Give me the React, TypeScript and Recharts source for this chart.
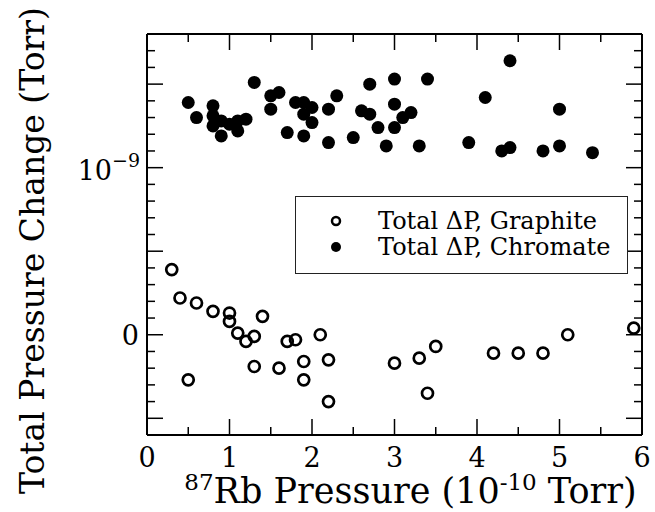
import React from 'react';
import { ScatterChart, Scatter, XAxis, YAxis, Legend } from 'recharts';

// values, y in units of 1e-9 Torr
const graphiteX = [0.3, 0.4, 0.6, 0.8, 1.0, 1.0, 1.1, 1.2, 1.3, 1.4, 1.3, 0.5, 1.6, 1.7, 1.8, 1.9, 1.9, 2.1, 2.2, 2.2, 3.0, 3.3, 3.4, 3.5, 4.2, 4.5, 4.8, 5.1, 5.9];
const graphiteY = [0.39, 0.22, 0.19, 0.14, 0.13, 0.08, 0.01, -0.04, -0.01, 0.11, -0.19, -0.27, -0.2, -0.04, -0.03, -0.16, -0.27, 0.0, -0.15, -0.4, -0.17, -0.14, -0.35, -0.07, -0.11, -0.11, -0.11, 0.0, 0.04];

const chromateX = [0.5, 0.6, 0.8, 0.8, 0.8, 0.9, 0.9, 1.0, 1.1, 1.1, 1.2, 1.3, 1.5, 1.5, 1.6, 1.7, 1.8, 1.9, 1.9, 2.0, 2.0, 1.9, 2.2, 2.2, 2.3, 2.5, 2.6, 2.7, 2.7, 2.8, 2.9, 3.0, 3.0, 3.0, 3.1, 3.2, 3.3, 3.4, 3.9, 4.1, 4.3, 4.4, 4.4, 4.8, 5.0, 5.0, 5.4];
const chromateY = [1.39, 1.3, 1.37, 1.31, 1.25, 1.28, 1.19, 1.26, 1.28, 1.22, 1.29, 1.51, 1.43, 1.35, 1.45, 1.21, 1.39, 1.39, 1.32, 1.36, 1.27, 1.19, 1.35, 1.15, 1.43, 1.18, 1.34, 1.5, 1.32, 1.24, 1.13, 1.53, 1.38, 1.24, 1.3, 1.33, 1.13, 1.53, 1.15, 1.42, 1.1, 1.12, 1.64, 1.1, 1.35, 1.13, 1.09];

const xTicks = [0, 0.5, 1, 1.5, 2, 2.5, 3, 3.5, 4, 4.5, 5, 5.5, 6];
const yTicks = [-0.6, -0.5, -0.4, -0.3, -0.2, -0.1, 0, 0.1, 0.2, 0.3, 0.4, 0.5, 0.6, 0.7, 0.8, 0.9, 1.0, 1.1, 1.2, 1.3, 1.4, 1.5, 1.6, 1.7, 1.8];

const GRAPHITE = 'Total ΔP, Graphite';
const CHROMATE = 'Total ΔP, Chromate';
const legendOrder = [GRAPHITE, CHROMATE];

const graphiteData = graphiteX.map((x, i) => ({ x, y: graphiteY[i] }));
const chromateData = chromateX.map((x, i) => ({ x, y: chromateY[i] }));

const FONT = '"DejaVu Serif", serif';

const isMajorX = (v: number) => Math.abs(v - Math.round(v)) < 1e-6;
const isMajorY = (v: number) => Math.abs(v * 2 - Math.round(v * 2)) < 1e-6;

const BottomTick = (props: any) => {
  const { x, y, payload } = props;
  const major = isMajorX(payload.value);
  return (
    <g>
      <line x1={x} x2={x} y1={y} y2={y - (major ? 16 : 8)} stroke="#000" strokeWidth={1.5} />
      {major && (
        <text x={x} y={y + 32} textAnchor="middle" fontSize={27} fontFamily={FONT} fill="#000">
          {Math.round(payload.value)}
        </text>
      )}
    </g>
  );
};

const TopTick = (props: any) => {
  const { x, y, payload } = props;
  const major = isMajorX(payload.value);
  return <line x1={x} x2={x} y1={y} y2={y + (major ? 16 : 8)} stroke="#000" strokeWidth={1.5} />;
};

const LeftTick = (props: any) => {
  const { x, y, payload } = props;
  const v = payload.value;
  const major = isMajorY(v);
  let label = null;
  if (Math.abs(v) < 1e-6) {
    label = (
      <text x={x - 8} y={y + 10} textAnchor="end" fontSize={27} fontFamily={FONT} fill="#000">0</text>
    );
  } else if (Math.abs(v - 1) < 1e-6) {
    label = (
      <text x={x - 7} y={y + 12} textAnchor="end" fontSize={27} fontFamily={FONT} fill="#000">
        10<tspan dy={-13} fontSize={19}>−9</tspan>
      </text>
    );
  }
  return (
    <g>
      <line x1={x} x2={x + (major ? 16 : 8)} y1={y} y2={y} stroke="#000" strokeWidth={1.5} />
      {label}
    </g>
  );
};

const RightTick = (props: any) => {
  const { x, y, payload } = props;
  const major = isMajorY(payload.value);
  return <line x1={x} x2={x - (major ? 16 : 8)} y1={y} y2={y} stroke="#000" strokeWidth={1.5} />;
};

const XLabel = (props: any) => {
  const vb = props.viewBox;
  return (
    <text x={vb.x + vb.width / 2 + 16} y={vb.y + 68} textAnchor="middle" fontSize={35} fontFamily={FONT} fill="#000">
      <tspan fontSize={23} dy={-13}>87</tspan>
      <tspan dy={13}>Rb Pressure (10</tspan>
      <tspan fontSize={23} dy={-13}>-10</tspan>
      <tspan dy={13}> Torr)</tspan>
    </text>
  );
};

const YLabel = (props: any) => {
  const vb = props.viewBox;
  const cx = vb.x - 43;
  const cy = vb.y + vb.height / 2 + 16;
  return (
    <text x={cx} y={cy} transform={`rotate(-90 ${cx} ${cy})`} textAnchor="middle" fontSize={33} fontFamily={FONT} fill="#000">
      Total Pressure Change (Torr)
    </text>
  );
};

const OpenDot = (props: any) => (
  <circle cx={props.cx} cy={props.cy} r={5.5} fill="none" stroke="#000" strokeWidth={2.7} />
);
const FilledDot = (props: any) => <circle cx={props.cx} cy={props.cy} r={6.5} fill="#000" />;

const LegendBox = (props: any) => {
  const items = [...(props.payload || [])].sort(
    (a: any, b: any) => legendOrder.indexOf(a.value) - legendOrder.indexOf(b.value)
  );
  return (
    <div
      style={{
        border: '1.5px solid #222',
        background: '#fff',
        width: 333,
        height: 78,
        boxSizing: 'border-box',
        fontFamily: FONT,
        fontSize: 24,
        paddingTop: 11,
      }}
    >
      {items.map((it: any) => (
        <div key={it.value} style={{ display: 'flex', alignItems: 'center', height: 26 }}>
          <svg width={80} height={26}>
            {it.value === GRAPHITE ? (
              <circle cx={40} cy={13} r={4} fill="none" stroke="#000" strokeWidth={2.5} />
            ) : (
              <circle cx={40} cy={13} r={5} fill="#000" />
            )}
          </svg>
          <span style={{ marginLeft: 2, lineHeight: '26px' }}>{it.value}</span>
        </div>
      ))}
    </div>
  );
};

export default function App() {
  return (
    <div style={{ position: 'absolute', left: 0, top: 0, background: '#fff' }}>
      <ScatterChart width={655} height={512} margin={{ top: 33, right: 12, bottom: 47, left: 87 }}>
        <XAxis
          xAxisId="bottom"
          type="number"
          dataKey="x"
          domain={[0, 6]}
          allowDataOverflow
          ticks={xTicks}
          interval={0}
          tickSize={0}
          tickMargin={0}
          tickLine={false}
          tick={<BottomTick />}
          axisLine={{ stroke: '#000', strokeWidth: 2 }}
          height={30}
          label={XLabel}
        />
        <XAxis
          xAxisId="top"
          orientation="top"
          type="number"
          dataKey="x"
          domain={[0, 6]}
          allowDataOverflow
          ticks={xTicks}
          interval={0}
          tickSize={0}
          tickMargin={0}
          tickLine={false}
          tick={<TopTick />}
          axisLine={{ stroke: '#000', strokeWidth: 2 }}
          height={1}
        />
        <YAxis
          yAxisId="left"
          type="number"
          dataKey="y"
          domain={[-0.6, 1.8]}
          allowDataOverflow
          ticks={yTicks}
          interval={0}
          tickSize={0}
          tickMargin={0}
          tickLine={false}
          tick={<LeftTick />}
          axisLine={{ stroke: '#000', strokeWidth: 2 }}
          width={60}
          label={YLabel}
        />
        <YAxis
          yAxisId="right"
          orientation="right"
          type="number"
          dataKey="y"
          domain={[-0.6, 1.8]}
          allowDataOverflow
          ticks={yTicks}
          interval={0}
          tickSize={0}
          tickMargin={0}
          tickLine={false}
          tick={<RightTick />}
          axisLine={{ stroke: '#000', strokeWidth: 2 }}
          width={1}
        />
        <Legend
          layout="vertical"
          align="center"
          verticalAlign="middle"
          content={<LegendBox />}
          wrapperStyle={{ left: 295, top: 196, width: 333, height: 78 }}
        />
        <Scatter
          name={GRAPHITE}
          data={graphiteData}
          xAxisId="top"
          yAxisId="right"
          fill="#fff"
          stroke="#000"
          shape={OpenDot}
          isAnimationActive={false}
        />
        <Scatter
          name={CHROMATE}
          data={chromateData}
          xAxisId="bottom"
          yAxisId="left"
          fill="#000"
          shape={FilledDot}
          isAnimationActive={false}
        />
      </ScatterChart>
    </div>
  );
}
